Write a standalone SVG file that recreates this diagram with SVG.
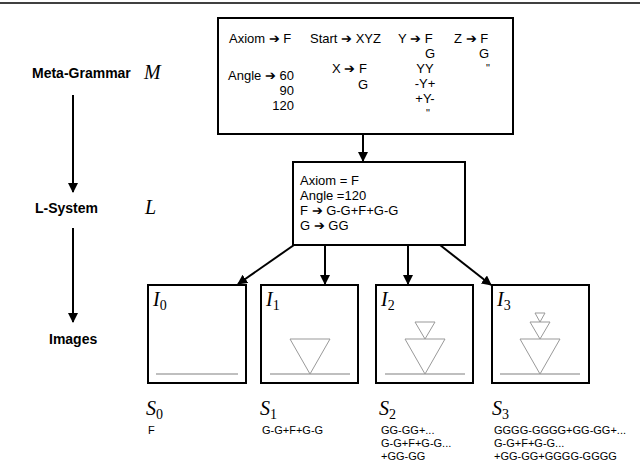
<svg xmlns="http://www.w3.org/2000/svg" width="640" height="464" viewBox="0 0 640 464">
<style>
text{font-family:"Liberation Sans",Arial,sans-serif;font-size:13px;fill:#000}
.s{font-size:11px}
.b{font-weight:bold;font-size:14px}
.m{font-family:"Liberation Serif","DejaVu Serif",serif;font-style:italic;font-size:20px}
.sub{font-family:"Liberation Serif",serif;font-style:normal;font-size:14px}
.box{fill:#fff;stroke:#000;stroke-width:2}
.tri{fill:none;stroke:#999;stroke-width:1}
.gl{stroke:#aaa;stroke-width:1.5}
.c{stroke:#000;stroke-width:2;fill:none;marker-end:url(#a)}
</style>
<defs><marker id="a" viewBox="0 0 10 10" refX="9" refY="5" markerWidth="5" markerHeight="5" orient="auto"><path d="M0,0L10,5L0,10z" fill="#000"/></marker></defs>
<rect width="640" height="464" fill="#fff"/>
<line x1="0" y1="3" x2="640" y2="3" stroke="#000" stroke-width="1.5"/>
<g id="labels">
<text class="b" x="32" y="78">Meta-Grammar</text><text class="m" x="144" y="79">M</text>
<text class="b" x="35" y="213">L-System</text><text class="m" x="145" y="214">L</text>
<text class="b" x="49" y="344">Images</text>
</g>
<g id="meta">
<rect class="box" x="218" y="18" width="295" height="116"/>
<text x="229" y="43">Axiom ➔ F</text>
<text x="310" y="43">Start ➔ XYZ</text>
<text x="398" y="43">Y ➔ F</text>
<text x="454" y="43">Z ➔ F</text>
<text x="425" y="58">G</text><text x="479" y="58">G</text>
<text x="486" y="72" class="s">"</text>
<text x="228" y="80">Angle ➔ 60</text>
<text x="294" y="95" text-anchor="end">90</text>
<text x="294" y="110" text-anchor="end">120</text>
<text x="332" y="73">X ➔ F</text>
<text x="358" y="89">G</text>
<text x="425" y="73" text-anchor="middle">YY</text>
<text x="425" y="88" text-anchor="middle">-Y+</text>
<text x="425" y="103" text-anchor="middle">+Y-</text>
<text x="428" y="117" class="s" text-anchor="middle">"</text>
</g>
<g id="lsys">
<rect class="box" x="293" y="162" width="172" height="83"/>
<text x="300" y="185">Axiom = F</text>
<text x="300" y="200">Angle =120</text>
<text x="300" y="215">F ➔ G-G+F+G-G</text>
<text x="300" y="230">G ➔ GG</text>
</g>
<g id="i0"><rect class="box" x="148" y="285" width="98" height="98"/><line class="gl" x1="156" y1="374" x2="238" y2="374"/><text class="m" x="153" y="306">I<tspan class="sub" dy="4">0</tspan></text></g>
<g id="i1"><rect class="box" x="261" y="285" width="97" height="98"/><line class="gl" x1="270" y1="374" x2="350" y2="374"/><path class="tri" d="M290,339H330L310,374Z"/><text class="m" x="266" y="306">I<tspan class="sub" dy="4">1</tspan></text></g>
<g id="i2"><rect class="box" x="376" y="285" width="97" height="98"/><line class="gl" x1="385" y1="374" x2="465" y2="374"/><path class="tri" d="M405,339H445L425,374Z M415,322H435L425,339Z"/><text class="m" x="381" y="306">I<tspan class="sub" dy="4">2</tspan></text></g>
<g id="i3"><rect class="box" x="492" y="285" width="97" height="98"/><line class="gl" x1="500" y1="374" x2="580" y2="374"/><path class="tri" d="M520,339H560L540,374Z M530,322H550L540,339Z M535,313H545L540,322Z"/><text class="m" x="497" y="306">I<tspan class="sub" dy="4">3</tspan></text></g>
<g id="strings">
<text class="m" x="146" y="415">S<tspan class="sub" dy="4">0</tspan></text>
<text class="m" x="260" y="415">S<tspan class="sub" dy="4">1</tspan></text>
<text class="m" x="379" y="415">S<tspan class="sub" dy="4">2</tspan></text>
<text class="m" x="492" y="415">S<tspan class="sub" dy="4">3</tspan></text>
<text class="s" x="148" y="434">F</text>
<text class="s" x="262" y="434">G-G+F+G-G</text>
<text class="s" x="381" y="434">GG-GG+...</text>
<text class="s" x="381" y="447">G-G+F+G-G...</text>
<text class="s" x="381" y="460">+GG-GG</text>
<text class="s" x="494" y="434">GGGG-GGGG+GG-GG+...</text>
<text class="s" x="494" y="447">G-G+F+G-G...</text>
<text class="s" x="494" y="460">+GG-GG+GGGG-GGGG</text>
</g>
<g id="connectors">
<line class="c" x1="73" y1="95" x2="73" y2="192"/>
<line class="c" x1="73" y1="228" x2="73" y2="322"/>
<line class="c" x1="363" y1="134" x2="363" y2="161"/>
<line class="c" x1="294" y1="245" x2="238" y2="284"/>
<line class="c" x1="325" y1="245" x2="325" y2="284"/>
<line class="c" x1="408" y1="245" x2="408" y2="284"/>
<line class="c" x1="440" y1="245" x2="491" y2="285"/>
</g>
</svg>
